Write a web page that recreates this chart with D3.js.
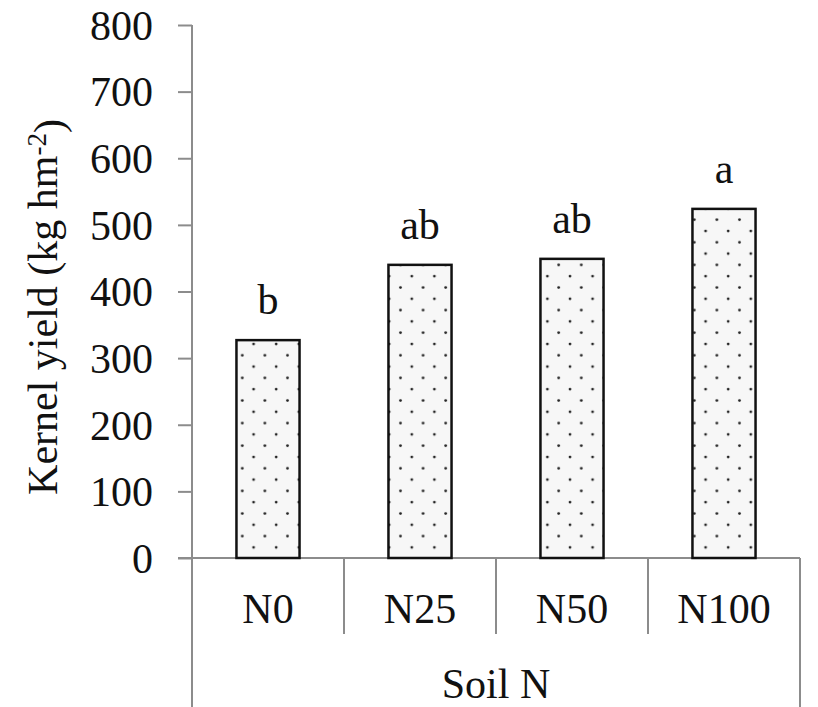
<!DOCTYPE html>
<html>
<head>
<meta charset="utf-8">
<script src="https://cdn.jsdelivr.net/npm/d3@7"></script>
</head>
<body style="margin:0">
<script>
var categories = ["N0", "N25", "N50", "N100"];
var yieldValues = [327, 440, 449, 524];
var letters = ["b", "ab", "ab", "a"];
var yTicks = [0, 100, 200, 300, 400, 500, 600, 700, 800];

var width = 818;
var height = 707;
var plotLeft = 192, plotRight = 800, plotTop = 25, plotBase = 558;
var fontName = "Liberation Serif";
var fontSize = "42px";

var svg = d3.select("body")
  .append("svg")
    .attr("width", width)
    .attr("height", height)
    .attr("font-family", fontName)
    .style("display", "block");

// dotted fill like the original
var defs = svg.append("defs");
var pat = defs.append("pattern")
    .attr("id", "dots")
    .attr("patternUnits", "userSpaceOnUse")
    .attr("width", 22.6)
    .attr("height", 22.6);
pat.append("rect").attr("width", 22.6).attr("height", 22.6).attr("fill", "#f7f7f7");
pat.append("circle").attr("cx", 5).attr("cy", 5).attr("r", 1.4).attr("fill", "#222");
pat.append("circle").attr("cx", 16.3).attr("cy", 16.3).attr("r", 1.4).attr("fill", "#222");

var x = d3.scaleBand()
    .domain(categories)
    .range([plotLeft, plotRight])
    .padding(0);

var y = d3.scaleLinear()
    .domain([0, 800])
    .range([plotBase, plotTop]);

var barW = x.bandwidth() * 0.415;
var axisColor = "#8c8c8c";

// ======= y axis ========
var yAxis = svg.append("g")
    .attr("transform", "translate(" + plotLeft + ",0)")
    .call(d3.axisLeft(y).tickValues(yTicks).tickSize(14).tickPadding(25).tickSizeOuter(0));

yAxis.attr("font-family", fontName).attr("font-size", fontSize);
yAxis.select(".domain").remove();
yAxis.selectAll(".tick line").attr("stroke", axisColor).attr("stroke-width", 2);
yAxis.selectAll(".tick text")
    .attr("font-family", fontName)
    .style("font-family", fontName)
    .style("font-size", fontSize)
    .attr("fill", "#111")
    .attr("dy", "0.34em");

svg.append("line")
    .attr("x1", plotLeft).attr("x2", plotLeft)
    .attr("y1", plotTop).attr("y2", height)
    .attr("stroke", axisColor).attr("stroke-width", 2);

// ======= x axis with category boxes ========
svg.append("line")
    .attr("x1", plotLeft - 14).attr("x2", plotRight)
    .attr("y1", plotBase).attr("y2", plotBase)
    .attr("stroke", axisColor).attr("stroke-width", 2);

svg.append("line")
    .attr("x1", plotRight).attr("x2", plotRight)
    .attr("y1", plotBase).attr("y2", height)
    .attr("stroke", axisColor).attr("stroke-width", 2);

svg.selectAll(".sep")
    .data(categories.slice(1))
  .enter().append("line")
    .attr("class", "sep")
    .attr("x1", function(d) { return x(d); })
    .attr("x2", function(d) { return x(d); })
    .attr("y1", plotBase).attr("y2", 634)
    .attr("stroke", axisColor).attr("stroke-width", 2);

svg.selectAll(".catLabel")
    .data(categories)
  .enter().append("text")
    .attr("class", "catLabel")
    .attr("x", function(d) { return x(d) + x.bandwidth() / 2; })
    .attr("y", 623)
    .attr("text-anchor", "middle")
    .attr("fill", "#111")
    .style("font-family", fontName)
    .style("font-size", fontSize)
    .text(function(d) { return d; });

svg.append("text")
    .attr("x", (plotLeft + plotRight) / 2)
    .attr("y", 698)
    .attr("text-anchor", "middle")
    .attr("fill", "#111")
    .style("font-family", fontName)
    .style("font-size", fontSize)
    .text("Soil N");

// ======= bars ========
svg.selectAll(".bar")
    .data(yieldValues)
  .enter().append("rect")
    .attr("class", "bar")
    .attr("x", function(d, i) { return x(categories[i]) + (x.bandwidth() - barW) / 2; })
    .attr("y", function(d) { return y(d); })
    .attr("width", barW)
    .attr("height", function(d) { return plotBase - y(d); })
    .attr("fill", "url(#dots)")
    .attr("stroke", "#111")
    .attr("stroke-width", 2.5);

svg.selectAll(".letter")
    .data(yieldValues)
  .enter().append("text")
    .attr("class", "letter")
    .attr("x", function(d, i) { return x(categories[i]) + x.bandwidth() / 2; })
    .attr("y", function(d) { return y(d) - 26; })
    .attr("text-anchor", "middle")
    .attr("fill", "#111")
    .style("font-family", fontName)
    .style("font-size", fontSize)
    .text(function(d, i) { return letters[i]; });

// ======= y title ========
var yTitle = svg.append("text")
    .attr("transform", "translate(57,307) rotate(-90)")
    .attr("text-anchor", "middle")
    .attr("fill", "#111")
    .style("font-family", fontName)
    .style("font-size", fontSize);
yTitle.append("tspan").text("Kernel yield (kg hm");
yTitle.append("tspan").attr("dy", "-0.42em").style("font-size", "27px").text("-2");
yTitle.append("tspan").attr("dy", "0.42em").text(")");
</script>
</body>
</html>
